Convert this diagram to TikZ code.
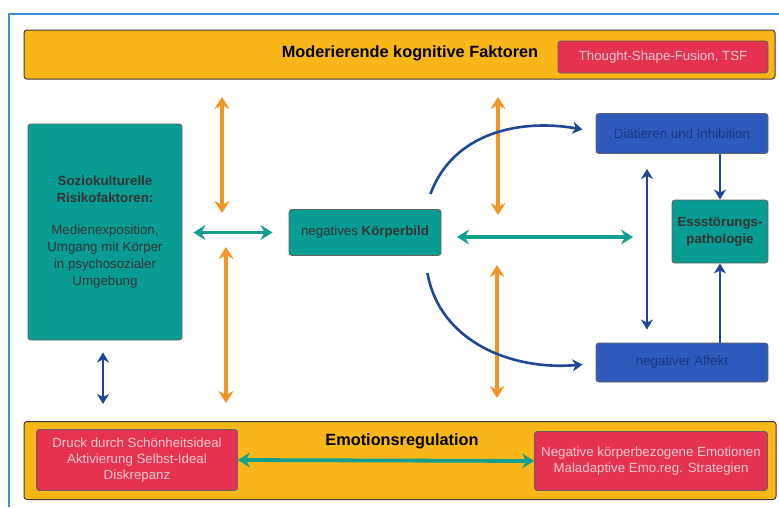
\documentclass[tikz,border=0pt]{standalone}
\usepackage{fontspec}
\setmainfont{Liberation Sans}
\usetikzlibrary{positioning,arrows.meta,calc}
\definecolor{gelb}{RGB}{248,182,24}
\definecolor{rot}{RGB}{228,50,80}
\definecolor{rottext}{RGB}{246,200,210}
\definecolor{tuerkis}{RGB}{8,156,146}
\definecolor{tuerkispfeil}{RGB}{20,160,145}
\definecolor{blau}{RGB}{46,90,190}
\definecolor{blautext}{RGB}{28,56,130}
\definecolor{blaupfeil}{RGB}{30,72,150}
\definecolor{pfeilorange}{RGB}{245,148,35}
\definecolor{rahmen}{RGB}{62,143,214}
\definecolor{kante}{RGB}{60,60,55}

\begin{document}
\begin{tikzpicture}[x=1pt, y=-1pt,
  band/.style={draw=kante, fill=gelb, rounded corners=3pt, line width=1pt},
  kasten/.style={draw=kante!80, rounded corners=3pt, line width=0.9pt,
                 align=center, inner sep=2pt},
  rotk/.style={kasten, fill=rot, text=rottext,
               font=\fontsize{13.3}{16}\selectfont},
  tuerk/.style={kasten, fill=tuerkis, text=black!80,
                font=\fontsize{13.3}{17}\selectfont},
  blauk/.style={kasten, fill=blau, text=blautext,
                font=\fontsize{13.3}{16}\selectfont},
  tit/.style={font=\fontsize{16.3}{18}\selectfont\bfseries, text=black},
  pfeilo/.style={{Stealth[length=12pt,width=15pt,inset=4pt]}-{Stealth[length=12pt,width=15pt,inset=4pt]},
                 line width=3.8pt, color=pfeilorange},
  pfeilt/.style={{Stealth[length=12pt,width=15pt,inset=4pt]}-{Stealth[length=12pt,width=15pt,inset=4pt]},
                 line width=3.8pt, color=tuerkispfeil},
  pfeilb/.style={-{Stealth[length=10pt,width=12pt,inset=3pt]},
                 line width=2.6pt, color=blaupfeil},
  pfeilbb/.style={{Stealth[length=10pt,width=12pt,inset=3pt]}-{Stealth[length=10pt,width=12pt,inset=3pt]},
                  line width=2.6pt, color=blaupfeil}]
  \useasboundingbox (0,0) rectangle (779,507);
  % Rahmen
  \draw[rahmen, line width=1.6pt] (9,507) -- (9,14) -- (779,14);
  % Baender
  \node[band, minimum width=751pt, minimum height=49pt] (oben) at (399.5,54.5) {};
  \node[tit] (moderierend) at (410,53) {Moderierende kognitive Faktoren};
  \node[rotk, minimum width=210pt, minimum height=32pt] (tsf) at (663,57)
       {Thought-Shape-Fusion, TSF};
  \node[band, minimum width=752pt, minimum height=78pt] (unten) at (400,460.5) {};
  \node[tit] (emoreg) at (402,441) {Emotionsregulation};
  \node[rotk, minimum width=201pt, minimum height=61pt] (druck) at (137,460)
       {Druck durch Schönheitsideal\\Aktivierung Selbst-Ideal\\Diskrepanz};
  \node[rotk, minimum width=233pt, minimum height=59pt] (negemo) at (651,461)
       {Negative körperbezogene Emotionen\\Maladaptive Emo.reg. Strategien};
  % Kaesten
  \node[tuerk, minimum width=154pt, minimum height=216pt] (sozio) at (105,232)
       {\textbf{Soziokulturelle}\\\textbf{Risikofaktoren:}\\[15pt]Medienexposition,\\
        Umgang mit Körper\\in psychosozialer\\Umgebung};
  \node[tuerk, minimum width=152pt, minimum height=46pt] (koerper) at (365,232.5)
       {negatives \textbf{Körperbild}};
  \node[blauk, minimum width=172pt, minimum height=40pt] (diaet) at (682,133.5)
       {Diätieren und Inhibition};
  \node[tuerk, minimum width=96pt, minimum height=63pt,
        font=\fontsize{13.3}{17}\selectfont\bfseries] (ess) at (720,231.5)
       {Essstörungs-\\pathologie};
  \node[blauk, minimum width=172pt, minimum height=39pt] (affekt) at (682,362.5)
       {negativer Affekt};
  % Hilfspunkte
  \coordinate (o1a) at (222,97);
  \coordinate (o1b) at (222,213);
  \coordinate (o2a) at (226,247);
  \coordinate (o2b) at (226,403);
  \coordinate (o3a) at (498,97);
  \coordinate (o3b) at (498,215);
  \coordinate (o4a) at (497,265);
  \coordinate (o4b) at (497,398);
  \coordinate (t1) at (457,237);
  \coordinate (t2) at (633,237);
  % Pfeile
  \draw[pfeilo] (o1a) -- (o1b);
  \draw[pfeilo] (o2a) -- (o2b);
  \draw[pfeilo] (o3a) -- (o3b);
  \draw[pfeilo] (o4a) -- (o4b);
  \draw[pfeilt, shorten <=11pt, shorten >=16pt] (sozio.east |- koerper) -- (koerper.west);
  \draw[pfeilt] (t1) -- (t2);
  \draw[pfeilt] (druck.east) -- (negemo.west);
  \draw[pfeilbb, shorten <=12pt, shorten >=17pt] (sozio.south -| 103,0) -- (unten.north -| 103,0);
  \draw[pfeilbb, shorten <=15pt, shorten >=13pt] (diaet.south -| 647,0) -- (affekt.north -| 647,0);
  \draw[pfeilb] (diaet.south -| ess) -- (ess.north);
  \draw[pfeilb] (affekt.north -| ess) -- (ess.south);
  \draw[pfeilb] ([xshift=-11pt, yshift=15pt]koerper.north east)
       to[out=70, in=170] ([xshift=-13pt, yshift=4pt]diaet.west);
  \draw[pfeilb] ([xshift=-14pt, yshift=-17pt]koerper.south east)
       to[out=-80, in=185] ([xshift=-13pt, yshift=-2pt]affekt.west);
\end{tikzpicture}
\end{document}
